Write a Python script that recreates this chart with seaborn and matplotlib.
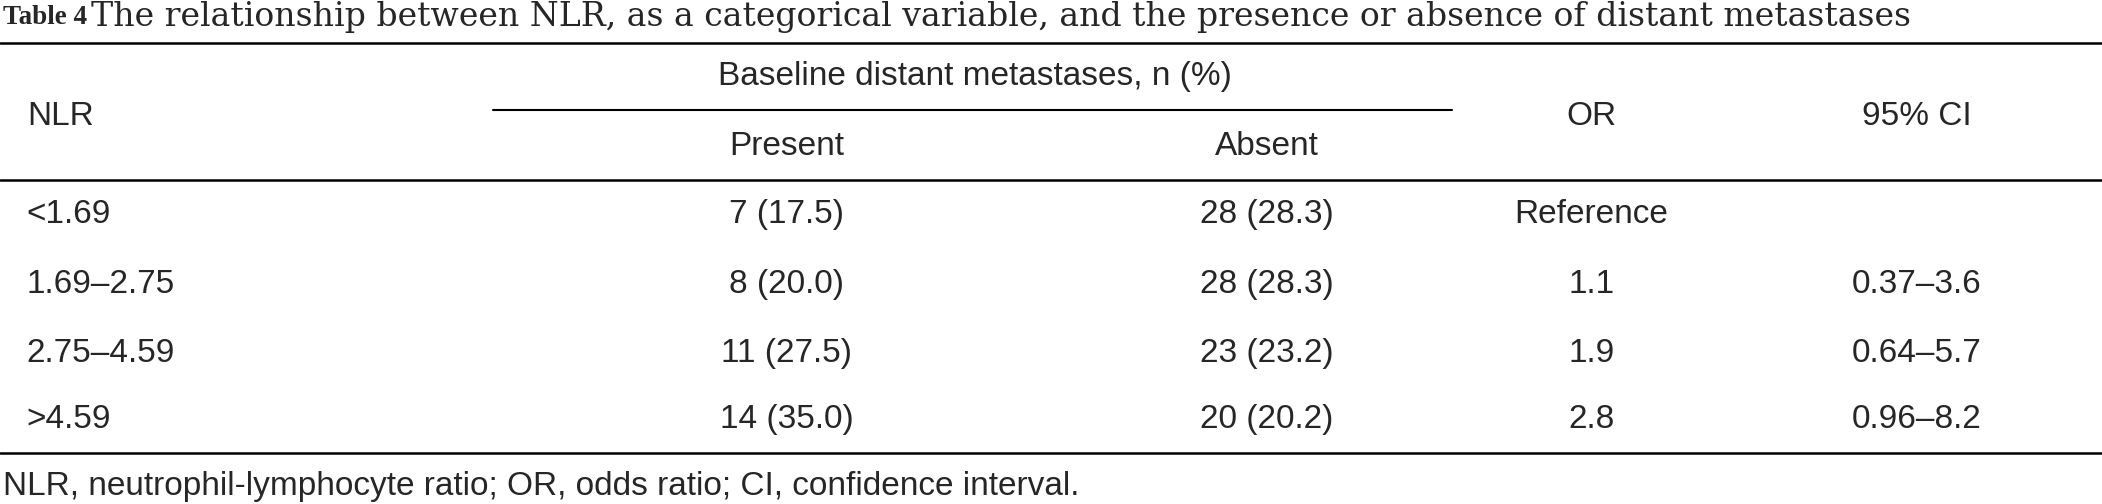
import matplotlib
matplotlib.use("Agg")
import matplotlib.pyplot as plt
import seaborn as sns

sns.set_theme(style="white")

title_bold = "Table 4"
title_rest = "The relationship between NLR, as a categorical variable, and the presence or absence of distant metastases"
group_header = "Baseline distant metastases, n (%)"
col_headers = ["NLR", "Present", "Absent", "OR", "95% CI"]
nlr = ["<1.69", "1.69–2.75", "2.75–4.59", ">4.59"]
present = ["7 (17.5)", "8 (20.0)", "11 (27.5)", "14 (35.0)"]
absent = ["28 (28.3)", "28 (28.3)", "23 (23.2)", "20 (20.2)"]
odds = ["Reference", "1.1", "1.9", "2.8"]
ci = ["", "0.37–3.6", "0.64–5.7", "0.96–8.2"]
footnote = "NLR, neutrophil-lymphocyte ratio; OR, odds ratio; CI, confidence interval."

W, H = 1568, 376
fig = plt.figure(figsize=(21.02, 5.04), dpi=100)
ax = fig.add_axes([0, 0, 1, 1])
ax.set_xlim(0, W)
ax.set_ylim(H, 0)
ax.axis("off")

sans = "Liberation Sans"
fs = 24
ax.text(2, 13, title_bold, fontfamily="Liberation Serif", fontweight="bold", fontsize=19.5, va="center", ha="left")
t = ax.text(68, 13, title_rest, fontfamily="DejaVu Serif", fontsize=19.5, va="center", ha="left")
# fit title width to reference span
fig.canvas.draw()
bb = t.get_window_extent()
target = (1430 - 68) / W * fig.bbox.width
t.set_fontsize(19.5 * target / bb.width)

for y, x0, x1, lw in [(32, 0, W, 1.8), (82, 368, 1083, 1.5), (134, 0, W, 1.8), (338, 0, W, 1.8)]:
    ax.plot([x0, x1], [y, y], color="black", lw=lw)

ax.text(20, 87, col_headers[0], fontfamily=sans, fontsize=fs, va="center", ha="left")
ax.text(727, 57, group_header, fontfamily=sans, fontsize=fs, va="center", ha="center")
ax.text(587, 109, col_headers[1], fontfamily=sans, fontsize=fs, va="center", ha="center")
ax.text(945, 109, col_headers[2], fontfamily=sans, fontsize=fs, va="center", ha="center")
ax.text(1187, 87, col_headers[3], fontfamily=sans, fontsize=fs, va="center", ha="center")
ax.text(1430, 87, col_headers[4], fontfamily=sans, fontsize=fs, va="center", ha="center")

row_y = [160, 212, 264, 313]
for i, y in enumerate(row_y):
    ax.text(20, y, nlr[i], fontfamily=sans, fontsize=fs, va="center", ha="left")
    ax.text(587, y, present[i], fontfamily=sans, fontsize=fs, va="center", ha="center")
    ax.text(945, y, absent[i], fontfamily=sans, fontsize=fs, va="center", ha="center")
    ax.text(1187, y, odds[i], fontfamily=sans, fontsize=fs, va="center", ha="center")
    ax.text(1430, y, ci[i], fontfamily=sans, fontsize=fs, va="center", ha="center")

ax.text(2, 363, footnote, fontfamily=sans, fontsize=fs, va="center", ha="left")

fig.savefig("out.png", dpi=100, facecolor="white")
